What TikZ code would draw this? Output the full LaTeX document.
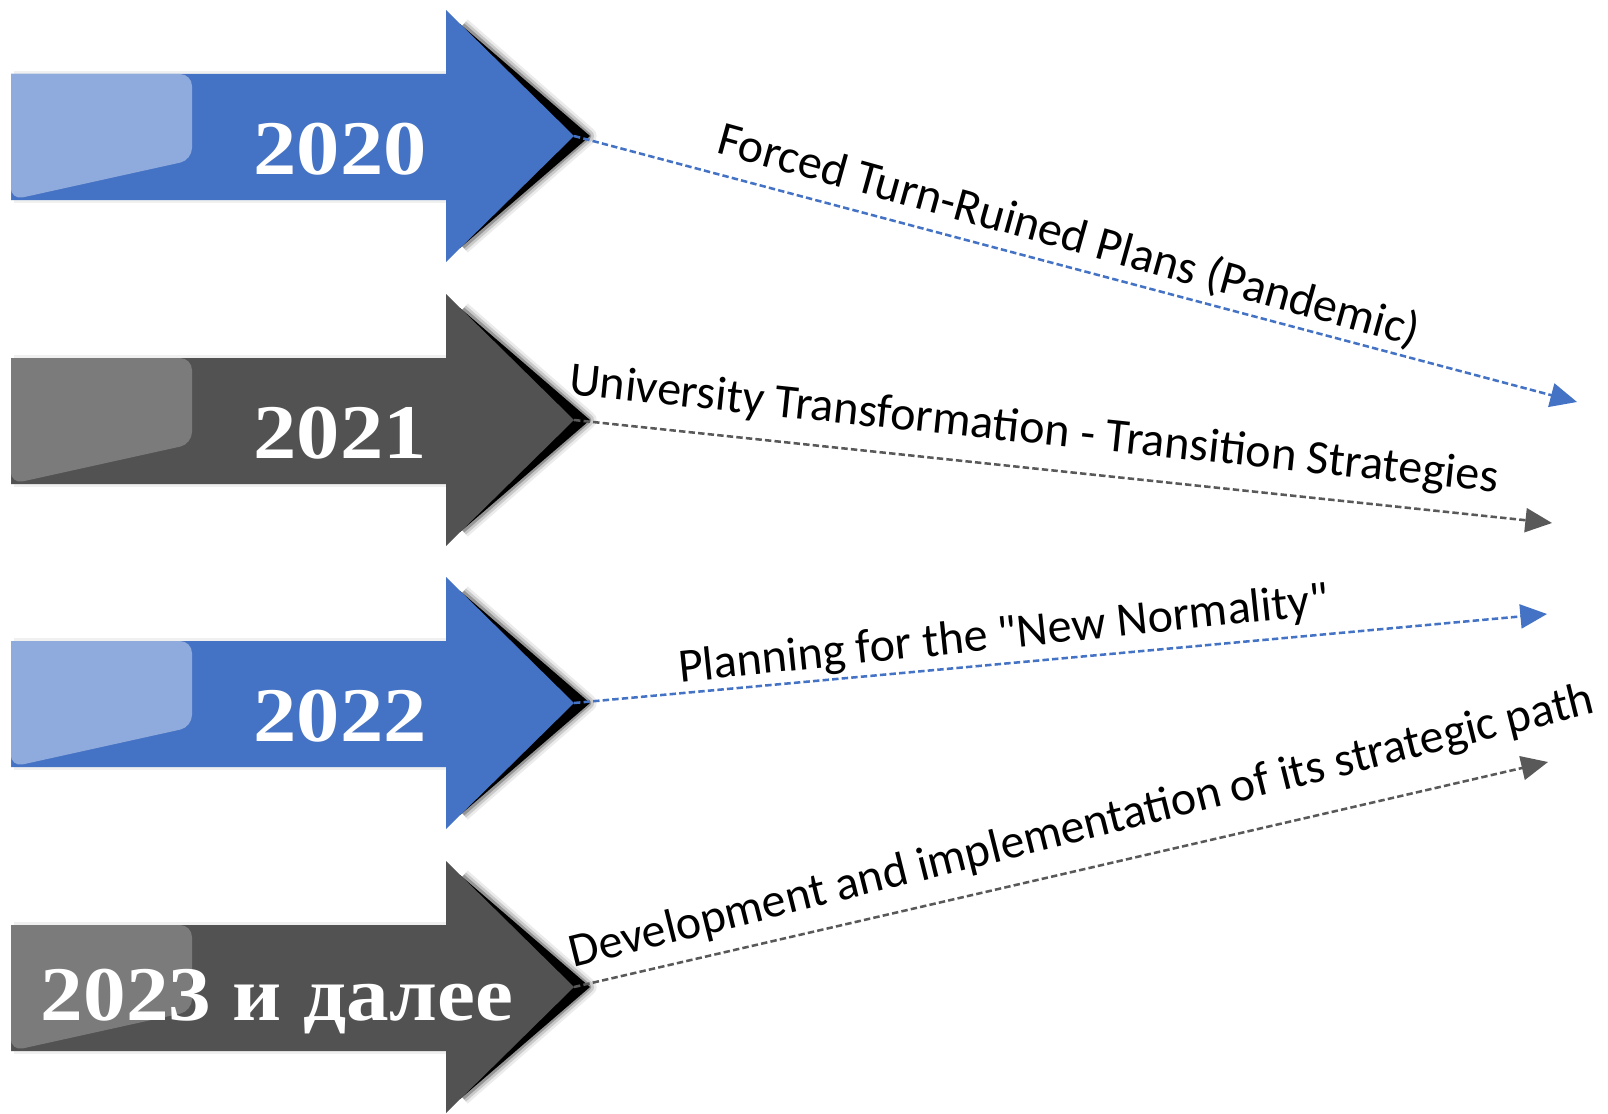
\documentclass[tikz,border=0pt]{standalone}
\usepackage{fontspec}
\setmainfont{Carlito}[Ligatures=TeXOff]
\newfontfamily\yearfont{Liberation Serif}
\usetikzlibrary{arrows.meta}
\definecolor{bluA}{HTML}{4472C4}
\definecolor{bluL}{HTML}{8FAADC}
\definecolor{grA}{HTML}{525252}
\definecolor{grL}{HTML}{7B7B7B}
\definecolor{grLine}{HTML}{595959}
\tikzset{
  yeartxt/.style={font=\yearfont\bfseries\fontsize{58}{60}\selectfont, text=white, xscale=1.12, anchor=base, inner sep=0pt},
  lbl/.style={font=\fontsize{36}{42}\selectfont, text=black, anchor=center, inner sep=0pt},
  conn/.style={line width=1.9pt, dash pattern=on 4.8pt off 2.4pt, -{Triangle[length=20pt,width=18pt]}},
}
\newcommand\yeararrow[4]{%
  \foreach \w/\op in {13pt/0.08,9pt/0.14,5pt/0.25}
    \draw[black,opacity=\op,line width=\w,line join=round] (462,#1-110) -- (588,#1) -- (462,#1+110);
  \fill[black] (460,#1-112) -- (590,#1) -- (460,#1+112) -- cycle;
  \draw[black,opacity=0.06,line width=4.5pt] (14,#1-62) -- (446,#1-62) (14,#1+64) -- (446,#1+64);
  \fill[#2] (11,#1-62) -- (446,#1-62) -- (446,#1-126) -- (574,#1) -- (446,#1+126) -- (446,#1+64) -- (11,#1+64) -- cycle;
  \fill[#3] (11,#1+64) -- (11,#1-62) [rounded corners=9pt] -- (192,#1-62) -- (192,#1+24) -- (11,#1+64) [sharp corners] -- cycle;
  \coordinate (#4) at (574,#1);
}
\begin{document}
\begin{tikzpicture}[x=0.75pt,y=-0.75pt]
\useasboundingbox (0,0) rectangle (1608,1113);
\fill[white] (0,0) rectangle (1608,1113);

\yeararrow{136}{bluA}{bluL}{t1}
\yeararrow{420}{grA}{grL}{t2}
\yeararrow{703}{bluA}{bluL}{t3}
\yeararrow{987}{grA}{grL}{t4}

\node[yeartxt] (y1) at (340,174) {2020};
\node[yeartxt] (y2) at (340,458) {2021};
\node[yeartxt] (y3) at (340,741) {2022};
\node[yeartxt, xscale=0.985] (y4) at (277,1020) {2023 и далее};

\coordinate (e1) at (1577,402);
\coordinate (e2) at (1552,523);
\coordinate (e3) at (1547,614);
\coordinate (e4) at (1548,762);

\draw[conn, bluA] (t1) -- (e1);
\draw[conn, grLine] (t2) -- (e2);
\draw[conn, bluA] (t3) -- (e3);
\draw[conn, grLine] (t4) -- (e4);

\node[lbl, rotate=-15.5] (l1) at (1069,236) {Forced Turn-Ruined Plans (Pandemic)};
\node[lbl, rotate=-6] (l2) at (1034,431) {University Transformation - Transition Strategies};
\node[lbl, rotate=6] (l3) at (1004,636) {Planning for the "New Normality"};
\node[lbl, rotate=14] (l4) at (1082,828) {Development and implementation of its strategic path};
\end{tikzpicture}
\end{document}
